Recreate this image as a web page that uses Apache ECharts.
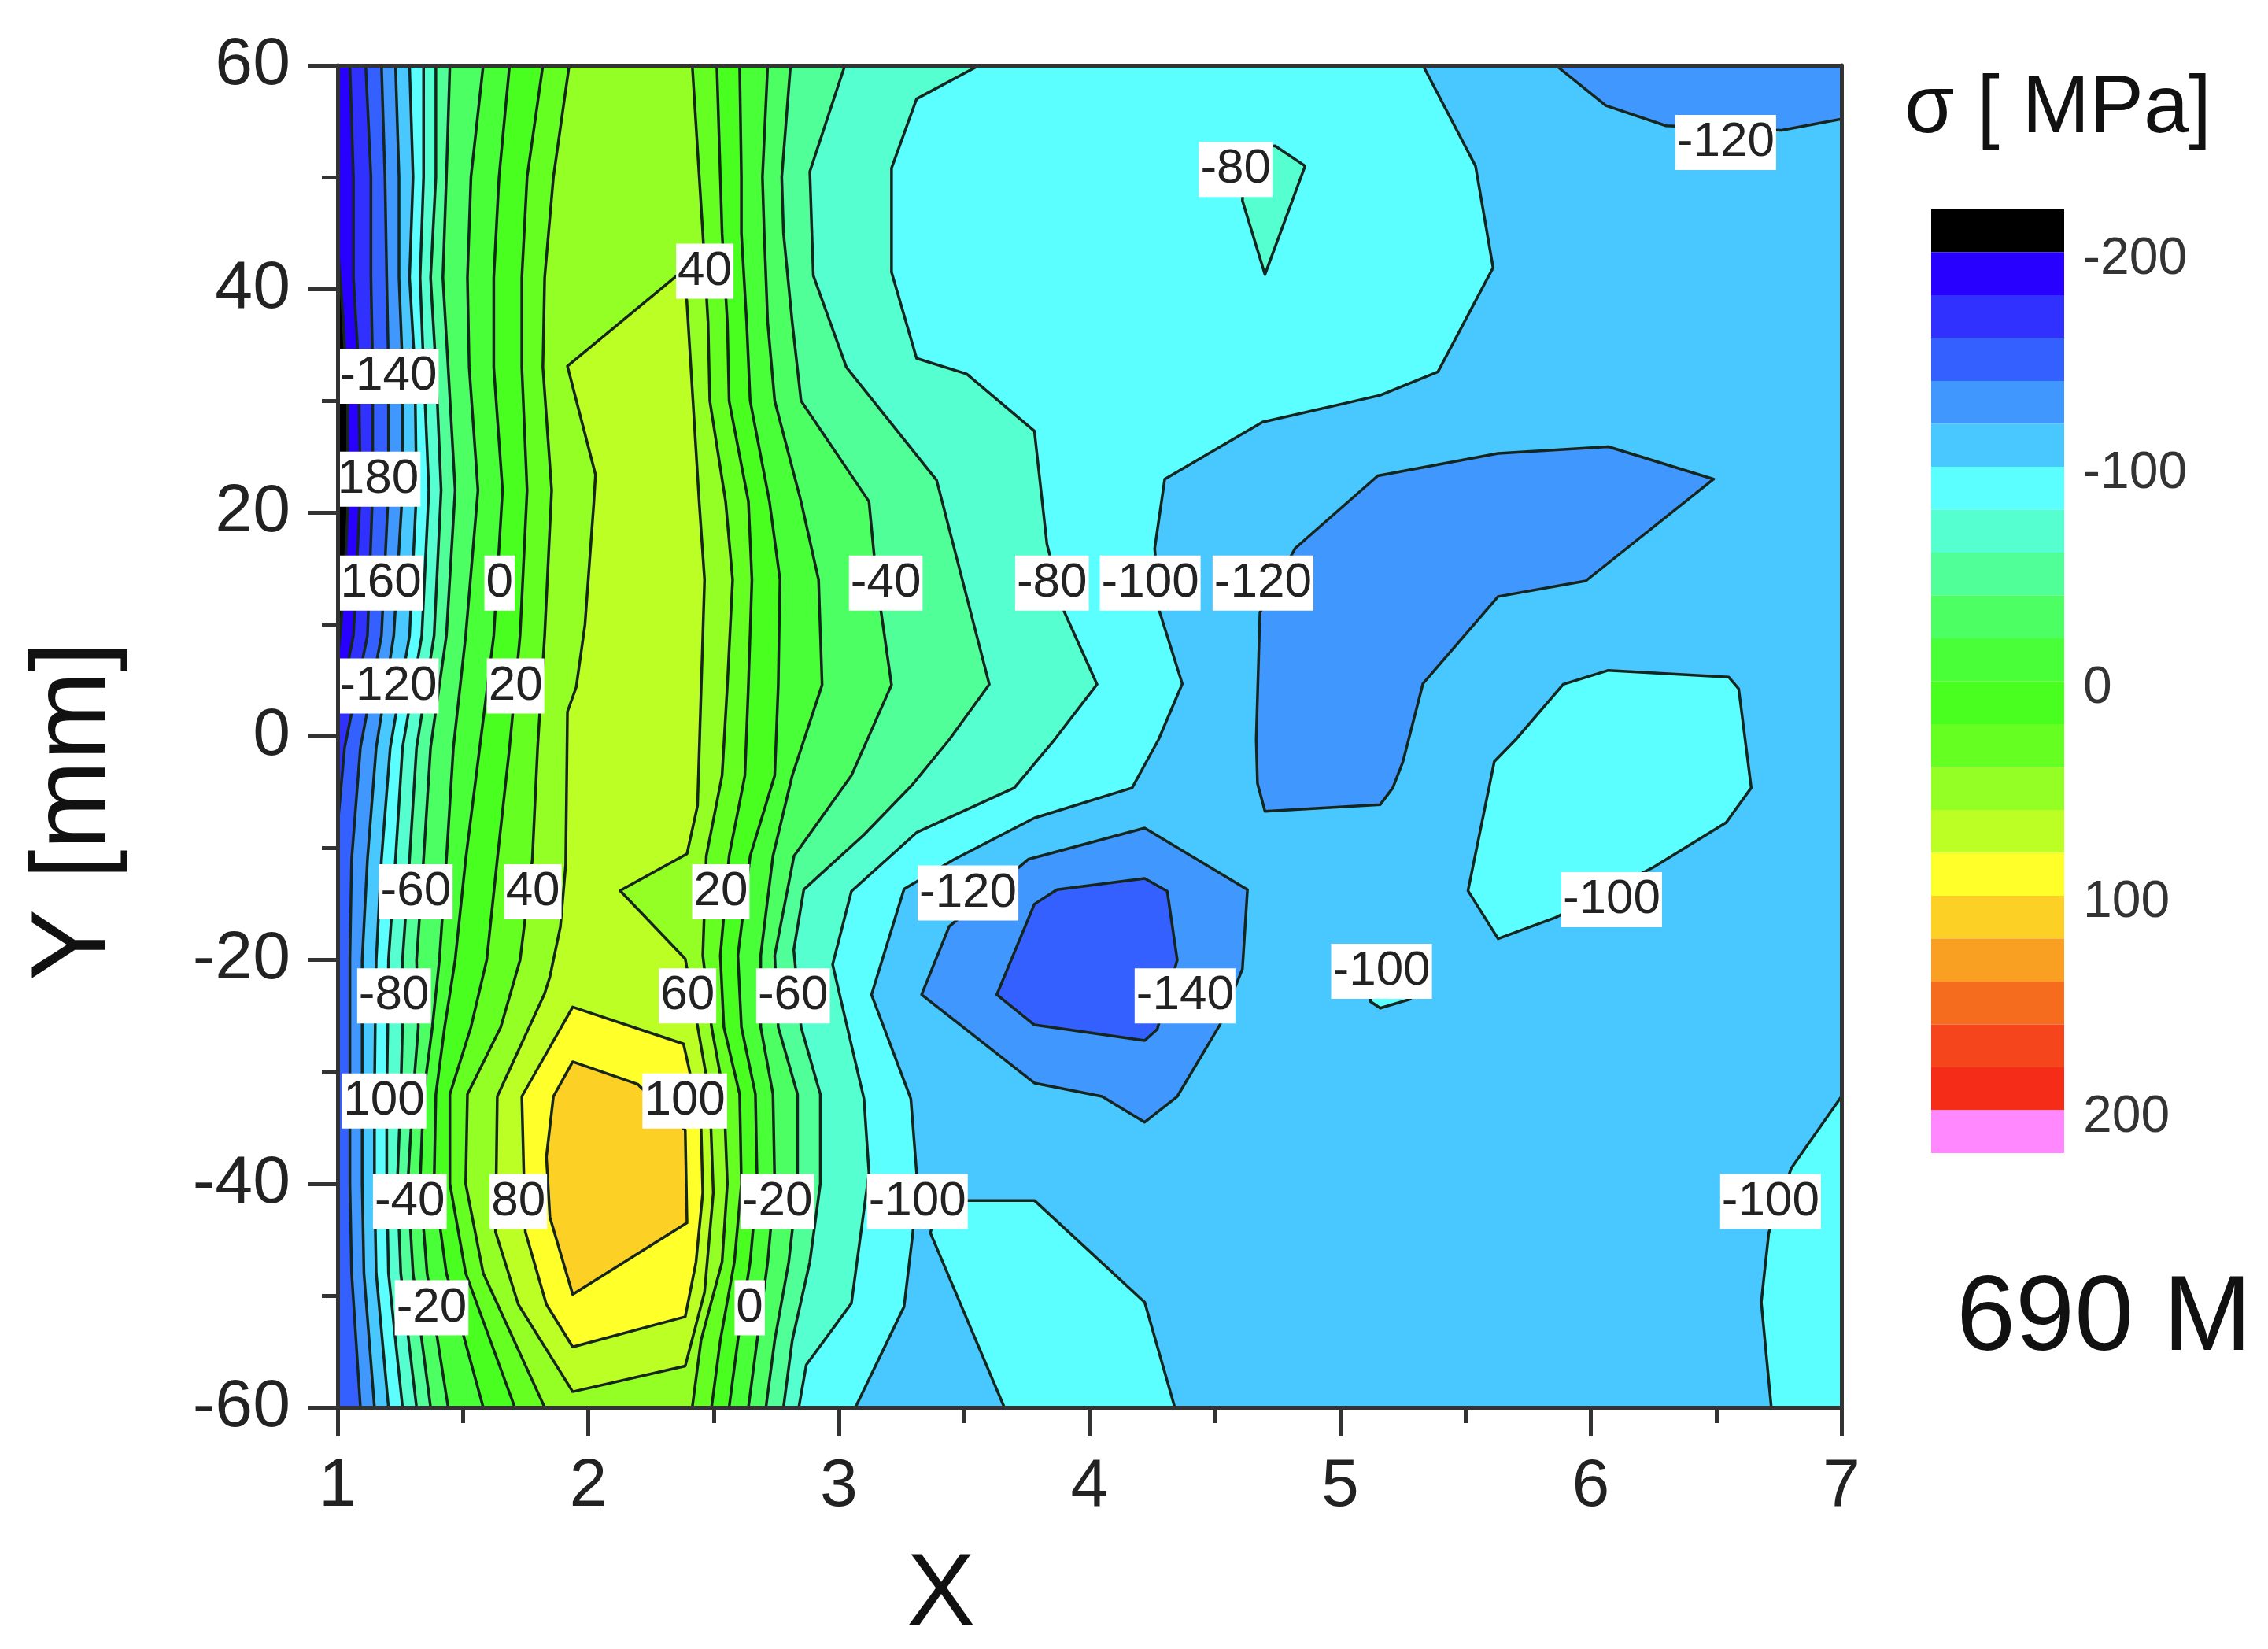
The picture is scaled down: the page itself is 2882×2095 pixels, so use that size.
<!DOCTYPE html>
<html>
<head>
<meta charset="utf-8">
<title>690 M</title>
<script src="https://cdn.jsdelivr.net/npm/echarts@6/dist/echarts.min.js"></script>
<style>
	html, body { margin: 0; padding: 0; background: #fff; }
	#chart { width: 2882px; height: 2095px; }
</style>
</head>
<body>
<div id="chart"></div>
<script>
// colour bar, black below -200 and pink above 200
const bandEdges = [-220, -200, -180, -160, -140, -120, -100, -80, -60, -40, -20, 0, 20, 40, 60, 80, 100, 120, 140, 160, 180, 200, 220];
const bandColors = ['#000000', '#2800ff', '#3030ff', '#3460ff', '#4098ff', '#48c8ff', '#5cffff', '#55ffd0', '#50ff98', '#4cff62', '#48ff38',
	'#48ff20', '#66ff22', '#93ff24', '#bcff24', '#ffff2a', '#fcd024', '#f9a022', '#f56c1e', '#f5451c', '#f52c18', '#ff88ff'];
const barTicks = [-200, -100, 0, 100, 200];

// isolines on the left flank, x read at these y stations
const leftY = [60, 50, 41, 33, 22, 9, -1, -11, -20, -26, -32, -40, -48, -60];
const left140 = [1.175, 1.189, 1.196, 1.203, 1.203, 1.175, 1.091, 1.056, 1.049, 1.049, 1.049, 1.049, 1.056, 1.091];
const left120 = [1.231, 1.245, 1.245, 1.259, 1.259, 1.224, 1.154, 1.119, 1.098, 1.098, 1.098, 1.098, 1.105, 1.147];
const left100 = [1.287, 1.301, 1.287, 1.308, 1.315, 1.287, 1.21, 1.175, 1.154, 1.15, 1.147, 1.147, 1.154, 1.203];
const left80 = [1.343, 1.343, 1.329, 1.343, 1.364, 1.336, 1.259, 1.231, 1.203, 1.2, 1.196, 1.196, 1.203, 1.259];
const left60 = [1.392, 1.392, 1.371, 1.392, 1.413, 1.385, 1.315, 1.287, 1.259, 1.259, 1.252, 1.238, 1.252, 1.315];
const left40 = [1.448, 1.434, 1.42, 1.441, 1.469, 1.434, 1.371, 1.343, 1.315, 1.322, 1.301, 1.28, 1.301, 1.371];
const left20 = [1.581, 1.532, 1.518, 1.525, 1.56, 1.511, 1.462, 1.434, 1.406, 1.378, 1.343, 1.329, 1.357, 1.441];
const leftZero = [1.686, 1.644, 1.623, 1.623, 1.658, 1.623, 1.567, 1.511, 1.469, 1.427, 1.392, 1.385, 1.434, 1.581];
const leftP20 = [1.819, 1.756, 1.735, 1.735, 1.756, 1.728, 1.686, 1.637, 1.595, 1.532, 1.448, 1.448, 1.511, 1.707];
const leftP40 = [1.924, 1.861, 1.826, 1.819, 1.854, 1.826, 1.798, 1.777, 1.728, 1.651, 1.518, 1.511, 1.581, 1.826];

// isolines on the right flank of the ridge
const rightY = [60, 50, 45, 37, 30, 21, 14, 4.6, -3.5, -10.7, -19.6, -26, -32, -40, -47, -54, -60];
const rightP40 = [2.415, 2.443, 2.457, 2.478, 2.485, 2.548, 2.576, 2.555, 2.534, 2.471, 2.457, 2.492, 2.541, 2.555, 2.534, 2.45, 2.415];
const rightP20 = [2.513, 2.527, 2.534, 2.555, 2.562, 2.639, 2.653, 2.639, 2.625, 2.562, 2.527, 2.541, 2.604, 2.611, 2.583, 2.527, 2.492];
const rightZero = [2.604, 2.611, 2.611, 2.632, 2.646, 2.723, 2.765, 2.758, 2.744, 2.646, 2.597, 2.611, 2.667, 2.674, 2.646, 2.597, 2.562];
const right20 = [2.716, 2.695, 2.702, 2.716, 2.744, 2.849, 2.919, 2.933, 2.814, 2.737, 2.688, 2.688, 2.737, 2.744, 2.716, 2.674, 2.639];
const right40 = [2.807, 2.772, 2.779, 2.814, 2.849, 3.12, 3.15, 3.21, 3.05, 2.821, 2.744, 2.758, 2.835, 2.835, 2.8, 2.744, 2.709];
const right60 = [[3.024, 60], [2.884, 50.5], [2.898, 41.2], [3.03, 33], [3.39, 22.9], [3.6, 4.65], [3.44, -0.3], [3.29, -4.4], [3.1, -8.8], [2.86, -13.7], [2.82, -19.1], [2.849, -26], [2.926, -32], [2.926, -40], [2.884, -47], [2.814, -54], [2.779, -60]];
const right80 = [[3.56, 60], [3.31, 57], [3.21, 50.8], [3.21, 41.5], [3.31, 33.8], [3.51, 32.4], [3.78, 27.3], [3.83, 17.2], [3.9, 11.1], [4.03, 4.65], [3.86, -0.3], [3.7, -4.6], [3.31, -8.6], [3.05, -13.85], [2.975, -20.4], [3.1, -32.4], [3.12, -39], [3.05, -50.7], [2.87, -56.2], [2.84, -60]];
const right100 = [[5.33, 60], [5.54, 51], [5.61, 41.9], [5.39, 32.6], [5.16, 30.5], [4.69, 28.1], [4.3, 23], [4.26, 16.8], [4.28, 11.1], [4.37, 4.7], [4.275, -0.3], [4.17, -4.6], [3.78, -7.3], [3.46, -11], [3.26, -13.65], [3.13, -23.1], [3.287, -32.4], [3.31, -39], [3.295, -44.4], [3.26, -51], [3.066, -60]];

// edge bands, running off the left axis
const edgeBlack = [[1, 44], [1.02, 38], [1.04, 30], [1.04, 20], [1.03, 15], [1.01, 9], [1, 7]];
const edge180 = [[1, 60], [1.049, 60], [1.063, 50], [1.063, 41], [1.084, 33], [1.091, 22], [1.063, 9], [1, 2]];
const edge160 = [[1, 60], [1.112, 60], [1.133, 50], [1.133, 41], [1.14, 33], [1.14, 22], [1.119, 9], [1.028, -1], [1, -8]];

// closed islands
const ridge60 = [[1.917, 33.1], [2.029, 23.4], [2.022, 20.8], [1.987, 10], [1.952, 4.4], [1.917, 2.2], [1.91, -11.5], [1.889, -17], [1.847, -21.5], [1.826, -23], [1.637, -32.2], [1.63, -44.3], [1.721, -50.8], [1.938, -58.6], [2.387, -56.3], [2.464, -49.7], [2.499, -40.8], [2.485, -32.2], [2.436, -25.9], [2.387, -19.9], [2.127, -13.8], [2.394, -10.5], [2.436, -6.2], [2.464, 14], [2.443, 20.8], [2.393, 39], [2.37, 41.5]];
const ridge80 = [[1.938, -24.2], [2.38, -27.5], [2.4, -29.5], [2.45, -34.9], [2.457, -40.8], [2.43, -47], [2.387, -51.9], [1.938, -54.6], [1.833, -50.8], [1.749, -44.3], [1.735, -32.2]];
const ridge100 = [[1.938, -29.1], [2.197, -31.1], [2.387, -35.2], [2.394, -43.5], [1.938, -49.9], [1.847, -43], [1.833, -37.6], [1.861, -32.2]];
const cornerTop120 = [[5.86, 60], [6.06, 56.4], [6.3, 54.6], [6.76, 54.2], [7, 55.2], [7, 60]];
const basin120 = [[4.82, 16.8], [5.15, 23.3], [5.63, 25.3], [6.07, 25.9], [6.49, 23], [5.98, 13.9], [5.63, 12.5], [5.33, 4.7], [5.25, -2.3], [5.21, -4.6], [5.16, -6.1], [4.7, -6.7], [4.67, -4.2], [4.665, -0.3], [4.68, 11.1]];
const pit120 = [[3.755, -11], [4.22, -8.2], [4.63, -13.7], [4.61, -20.8], [4.52, -25.8], [4.35, -32.2], [4.22, -34.5], [4.05, -32.2], [3.78, -31], [3.33, -23.1], [3.44, -17]];
const pit140 = [[4.22, -12.7], [4.31, -13.85], [4.35, -20], [4.27, -26.2], [4.22, -27.2], [3.78, -25.8], [3.63, -23.1], [3.78, -15], [3.87, -13.7]];
const hill100Right = [[5.89, 4.65], [6.07, 5.9], [6.55, 5.3], [6.59, 4.25], [6.64, -4.6], [6.54, -7.7], [6.25, -11.7], [5.86, -16.2], [5.63, -18.1], [5.51, -13.8], [5.615, -2.25], [5.7, -0.3]];
const hill100Low = [[3.4, -41.5], [3.78, -41.5], [4.22, -50.6], [4.34, -60], [3.66, -60], [3.365, -44.4]];
const hill100Corner = [[7, -32.2], [6.8, -38.6], [6.71, -44.4], [6.68, -50.6], [6.72, -60], [7, -60]];
const hill100Tiny = [[5.12, -22], [5.12, -23.7], [5.16, -24.3], [5.28, -23.5], [5.28, -22]];
const hill80 = [[4.62, 52.5], [4.74, 52.8], [4.86, 51], [4.7, 41.3], [4.61, 47.9]];

// contour labels as they show in the picture, some have lost the minus sign under the box
const labelText = ['-140', '180', '160', '-120', '-60', '40', '0', '20', '-80', '100', '-40', '80', '-20', '40', '20', '60', '100', '-60', '-20', '0', '-40', '-80', '-100', '-120', '-80', '-120', '-120', '-140', '-100', '-100', '-100', '-100'];
const labelX = [1.202, 1.162, 1.173, 1.202, 1.312, 1.779, 1.646, 1.71, 1.225, 1.185, 1.288, 1.721, 1.375, 2.465, 2.529, 2.396, 2.385, 2.817, 2.754, 2.644, 3.187, 3.85, 4.242, 4.692, 4.583, 6.538, 3.515, 4.381, 5.165, 6.083, 3.313, 6.717];
const labelY = [32.2, 23, 13.7, 4.5, -13.9, -13.9, 13.7, 4.5, -23.2, -32.6, -41.6, -41.6, -51.1, 41.6, -13.9, -23.2, -32.6, -23.2, -41.6, -51.1, 13.7, 13.7, 13.7, 13.7, 50.7, 53.1, -14, -23.2, -21, -14.6, -41.6, -41.6];

const FONT = '"Liberation Sans", Arial, sans-serif';
const TEXT = '#222';
const AXIS = { color: '#333', width: 5 };

function colorOf(low) {
	return bandColors[bandEdges.indexOf(low)];
}

function pairs(xs, ys) {
	return xs.map((x, i) => [x, ys[i]]);
}

// area between a left line and a right line, top to bottom then back up
function between(leftLine, rightLine) {
	return leftLine.concat(rightLine.slice().reverse());
}

function leftOf(line) {
	return [[1, 60]].concat(line, [[1, -60]]);
}

const L = (xs) => pairs(xs, leftY);
const R = (xs) => pairs(xs, rightY);

// painted in this order, each one over the last
const rings = [
	{ low: -120, pts: [[1, 60], [7, 60], [7, -60], [1, -60]] },
	{ low: -140, pts: cornerTop120 },
	{ low: -140, pts: basin120 },
	{ low: -140, pts: pit120 },
	{ low: -160, pts: pit140 },
	{ low: -100, pts: hill100Right },
	{ low: -100, pts: hill100Low },
	{ low: -100, pts: hill100Corner },
	{ low: -100, pts: hill100Tiny },
	{ low: -100, pts: between(L(left100), right100) },
	{ low: -80, pts: hill80 },
	{ low: -80, pts: between(L(left80), right80) },
	{ low: -60, pts: between(L(left60), right60) },
	{ low: -40, pts: between(L(left40), R(right40)) },
	{ low: -20, pts: between(L(left20), R(right20)) },
	{ low: 0, pts: between(L(leftZero), R(rightZero)) },
	{ low: 20, pts: between(L(leftP20), R(rightP20)) },
	{ low: 40, pts: between(L(leftP40), R(rightP40)) },
	{ low: 60, pts: ridge60 },
	{ low: 80, pts: ridge80 },
	{ low: 100, pts: ridge100 },
	{ low: -140, pts: leftOf(L(left120)) },
	{ low: -160, pts: leftOf(L(left140)) },
	{ low: -180, pts: edge160 },
	{ low: -200, pts: edge180 },
	{ low: -220, pts: edgeBlack }
];

const chart = echarts.init(document.getElementById('chart'));

const option = {
	backgroundColor: '#fff',
	animation: false,
	grid: [
		{ left: 429, top: 83, width: 1911, height: 1705, outerBoundsMode: 'none' },
		{ left: 2454, top: 266, width: 169, height: 1199, outerBoundsMode: 'none' }
	],
	xAxis: [
		{
			type: 'value', gridIndex: 0, min: 1, max: 7, interval: 1, z: 20,
			name: 'X', nameLocation: 'middle', nameGap: 175,
			nameTextStyle: { fontFamily: FONT, fontSize: 130, color: '#111', padding: [0, 378, 0, 0] },
			axisLine: { onZero: false, lineStyle: AXIS },
			axisTick: { length: 37, lineStyle: AXIS },
			minorTick: { show: true, splitNumber: 2, length: 20, lineStyle: AXIS },
			axisLabel: { fontFamily: FONT, fontSize: 86, color: TEXT, margin: 58 },
			splitLine: { show: false }
		},
		{
			type: 'value', gridIndex: 0, position: 'top', min: 1, max: 7, interval: 1, z: 20,
			axisLine: { onZero: false, lineStyle: AXIS },
			axisTick: { show: false }, axisLabel: { show: false }, splitLine: { show: false }
		},
		{ type: 'value', gridIndex: 1, min: 0, max: 1, show: false }
	],
	yAxis: [
		{
			type: 'value', gridIndex: 0, min: -60, max: 60, interval: 20, z: 20,
			name: 'Y [mm]', nameLocation: 'middle', nameGap: 265, nameRotate: 90,
			nameTextStyle: { fontFamily: FONT, fontSize: 136, color: '#111', padding: [0, 190, 0, 0] },
			axisLine: { onZero: false, lineStyle: AXIS },
			axisTick: { length: 37, lineStyle: AXIS },
			minorTick: { show: true, splitNumber: 2, length: 20, lineStyle: AXIS },
			axisLabel: { fontFamily: FONT, fontSize: 86, color: TEXT, margin: 60 },
			splitLine: { show: false }
		},
		{
			type: 'value', gridIndex: 0, position: 'right', min: -60, max: 60, interval: 20, z: 20,
			axisLine: { onZero: false, lineStyle: AXIS },
			axisTick: { show: false }, axisLabel: { show: false }, splitLine: { show: false }
		},
		{
			type: 'value', gridIndex: 1, position: 'right', inverse: true, min: -220, max: 220,
			axisLine: { show: false }, axisTick: { show: false }, splitLine: { show: false },
			axisLabel: {
				customValues: barTicks, margin: 24, formatter: '{a|{value}}',
				rich: { a: { fontFamily: FONT, fontSize: 66, color: '#333', padding: [18, 0, 0, 0] } }
			}
		}
	],
	graphic: [
		{ type: 'text', left: 2420, top: 88, style: { text: 'σ [ MPa]', fontFamily: FONT, fontSize: 103, fill: '#111' } },
		{ type: 'text', left: 2486, top: 1610, style: { text: '690 M', fontFamily: FONT, fontSize: 135, fill: '#111' } }
	],
	series: [
		{
			type: 'custom', xAxisIndex: 0, yAxisIndex: 0, z: 2, clip: true, silent: true,
			data: rings.map((r, i) => ({ value: [r.pts[0][0], r.pts[0][1], i] })),
			renderItem: (params, api) => {
				const ring = rings[api.value(2)];
				return {
					type: 'polygon',
					shape: { points: ring.pts.map((p) => api.coord(p)) },
					style: { fill: colorOf(ring.low), stroke: '#16261e', lineWidth: 3.5, lineJoin: 'round' }
				};
			}
		},
		{
			type: 'custom', xAxisIndex: 2, yAxisIndex: 2, silent: true,
			data: bandColors.map((c, i) => ({ value: [0, bandEdges[i], bandEdges[i + 1], i] })),
			renderItem: (params, api) => {
				const a = api.coord([0, api.value(1)]);
				const b = api.coord([1, api.value(2)]);
				return {
					type: 'rect',
					shape: { x: a[0], y: a[1], width: b[0] - a[0], height: b[1] - a[1] },
					style: { fill: bandColors[api.value(3)] }
				};
			}
		},
		{
			type: 'scatter', xAxisIndex: 0, yAxisIndex: 0, z: 10, symbolSize: 0, silent: true,
			itemStyle: { opacity: 1 },
			data: labelText.map((t, i) => ({ name: t, value: [labelX[i], labelY[i]] })),
			label: {
				show: true, position: 'inside', formatter: '{b}', opacity: 1,
				fontFamily: FONT, fontSize: 62, color: TEXT,
				backgroundColor: '#fff', padding: [6, 2, 2, 2]
			}
		}
	]
};

chart.setOption(option);

window.addEventListener('resize', () => chart.resize(), false);
</script>
</body>
</html>
